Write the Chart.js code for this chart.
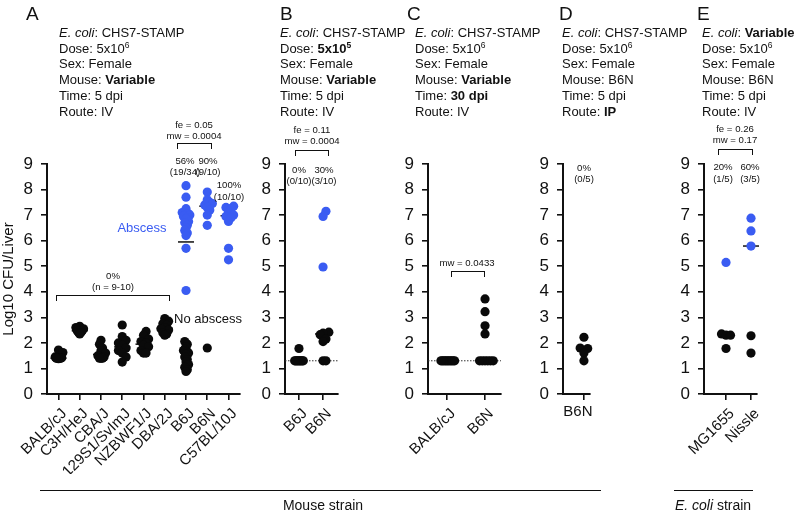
<!DOCTYPE html>
<html>
<head>
<meta charset="utf-8">
<script src="https://cdn.jsdelivr.net/npm/chart.js@4"></script>
<style>
  body { margin: 0; background: #fff; width: 794px; height: 512px; position: relative; overflow: hidden;
         font-family: Arial, "Liberation Sans", sans-serif; color: #111; }
  canvas { position: absolute; left: 0; top: 0; }
  .lbl { position: absolute; font-size: 19px; line-height: 1; }
  .hdr { position: absolute; font-size: 13px; line-height: 15.7px; white-space: nowrap; top: 25px; }
  .hdr sup { font-size: 8.5px; line-height: 0; vertical-align: 5px; }
  .note { position: absolute; transform: translate(-50%, -50%); white-space: nowrap; font-size: 9.6px; }
  .big { font-size: 13px; }
  .brk { position: absolute; border: 1.2px solid #111; border-bottom: none; height: 6px; box-sizing: border-box; }
  .rule { position: absolute; height: 0; border-top: 1.5px solid #111; }
</style>
</head>
<body>
<canvas id="cA" width="794" height="512"></canvas>
<canvas id="cB" width="794" height="512"></canvas>
<canvas id="cC" width="794" height="512"></canvas>
<canvas id="cD" width="794" height="512"></canvas>
<canvas id="cE" width="794" height="512"></canvas>

<div class="lbl" style="left:26px;top:4px">A</div>
<div class="hdr" style="left:59px"><i>E. coli</i>: CHS7-STAMP<br>Dose: 5x10<sup>6</sup><br>Sex: Female<br>Mouse: <b>Variable</b><br>Time: 5 dpi<br>Route: IV</div>
<div class="lbl" style="left:280px;top:4px">B</div>
<div class="hdr" style="left:280px"><i>E. coli</i>: CHS7-STAMP<br>Dose: <b>5x10<sup>5</sup></b><br>Sex: Female<br>Mouse: <b>Variable</b><br>Time: 5 dpi<br>Route: IV</div>
<div class="lbl" style="left:407px;top:4px">C</div>
<div class="hdr" style="left:415px"><i>E. coli</i>: CHS7-STAMP<br>Dose: 5x10<sup>6</sup><br>Sex: Female<br>Mouse: <b>Variable</b><br>Time: <b>30 dpi</b><br>Route: IV</div>
<div class="lbl" style="left:559px;top:4px">D</div>
<div class="hdr" style="left:562px"><i>E. coli</i>: CHS7-STAMP<br>Dose: 5x10<sup>6</sup><br>Sex: Female<br>Mouse: B6N<br>Time: 5 dpi<br>Route: <b>IP</b></div>
<div class="lbl" style="left:697px;top:4px">E</div>
<div class="hdr" style="left:702px"><i>E. coli</i>: <b>Variable</b><br>Dose: 5x10<sup>6</sup><br>Sex: Female<br>Mouse: B6N<br>Time: 5 dpi<br>Route: IV</div>

<div class="rule" style="left:40px;top:490px;width:561px"></div>
<div class="note big" style="left:323px;top:505px;font-size:14px">Mouse strain</div>
<div class="rule" style="left:674px;top:490px;width:79px"></div>
<div class="note big" style="left:713px;top:505px;font-size:14px"><i>E. coli</i> strain</div>

<script>
Chart.defaults.font.family = 'Arial, "Liberation Sans", sans-serif';
Chart.defaults.color = '#111';

// Panel A: mouse strains, 5x10^6, 5 dpi
const strainsA = ['BALB/cJ', 'C3H/HeJ', 'CBA/J', '129S1/SvImJ', 'NZBWF1/J', 'DBA/2J', 'B6J', 'B6N', 'C57BL/10J'];
const noAbscessA = [
  [1.72, 1.62, 1.45, 1.42, 1.4, 1.4, 1.4, 1.38, 1.4],
  [2.65, 2.6, 2.55, 2.5, 2.5, 2.45, 2.45, 2.4, 2.4, 2.35],
  [2.1, 1.95, 1.8, 1.7, 1.6, 1.5, 1.45, 1.4, 1.4, 1.4],
  [2.7, 2.25, 2.1, 2.0, 1.9, 1.8, 1.7, 1.6, 1.45, 1.25],
  [2.45, 2.3, 2.15, 2.05, 2.0, 1.9, 1.85, 1.7, 1.6, 1.6],
  [2.95, 2.85, 2.75, 2.7, 2.6, 2.55, 2.5, 2.4, 2.35, 2.3],
  [2.05, 1.95, 1.85, 1.75, 1.7, 1.65, 1.6, 1.55, 1.45, 1.35, 1.25, 1.15, 1.05, 0.95, 0.88],
  [1.8],
  []
];
const abscessA = [[], [], [], [], [], [],
  [8.15, 7.7, 7.25, 7.1, 7.05, 7.0, 7.0, 6.95, 6.9, 6.85, 6.75, 6.7, 6.6, 6.5, 6.4, 6.3, 6.2, 5.7, 4.05],
  [7.9, 7.6, 7.5, 7.45, 7.4, 7.3, 7.2, 7.0, 6.6],
  [7.35, 7.3, 7.25, 7.1, 7.0, 6.95, 6.9, 6.75, 5.7, 5.25]
];

// Panel B: dose 5x10^5
const strainsB = ['B6J', 'B6N'];
const noAbscessB = [[1.78, 1.3, 1.3, 1.3, 1.3, 1.3, 1.3, 1.3, 1.3, 1.3], [2.42, 2.38, 2.32, 2.15, 2.05, 1.3, 1.3]];
const abscessB = [[], [7.15, 6.95, 4.97]];

// Panel C: 30 dpi
const strainsC = ['BALB/cJ', 'B6N'];
const noAbscessC = [[1.3, 1.3, 1.3, 1.3, 1.3, 1.3, 1.3, 1.3, 1.3, 1.3], [3.72, 3.22, 2.67, 2.35, 1.3, 1.3, 1.3, 1.3, 1.3, 1.3]];
const abscessC = [[], []];

// Panel D: IP route
const strainsD = ['B6N'];
const noAbscessD = [[2.22, 1.8, 1.78, 1.6, 1.3]];
const abscessD = [[]];

// Panel E: E. coli strain
const strainsE = ['MG1655', 'Nissle'];
const noAbscessE = [[2.35, 2.3, 2.3, 1.78], [2.28, 1.6]];
const abscessE = [[5.15], [6.88, 6.38, 5.79]];

const yTicks = [0, 1, 2, 3, 4, 5, 6, 7, 8, 9];
const LOD = 1.3;

const BLUE = '#3a5cf2';
const INK = '#111';
const PX_Y = 230 / 9;

/* Spread points sideways like a scatter dot plot */
function swarm(vals, pxCat) {
  const step = 4.5, yGap = 7;
  const order = vals.map((v, i) => i).sort((a, b) => vals[a] - vals[b]);
  const placed = [];
  const off = [];
  order.forEach((i) => {
    const y = vals[i] * PX_Y;
    for (let k = 0; ; k++) {
      const dx = (k % 2 ? 1 : -1) * Math.ceil(k / 2) * step;
      if (!placed.some((p) => Math.abs(p.y - y) < yGap && Math.abs(p.x - dx) < step * 0.99)) {
        placed.push({ x: dx, y });
        off[i] = dx;
        break;
      }
    }
  });
  if (!off.length) return off;
  const span = Math.max(...off) - Math.min(...off);
  const lim = 0.36 * pxCat;
  const f = span > lim ? lim / span : 1;
  return off.map((d) => (d * f) / pxCat);
}

function median(a) {
  const s = [...a].sort((p, q) => p - q);
  const m = s.length >> 1;
  return s.length % 2 ? s[m] : (s[m - 1] + s[m]) / 2;
}

function makePanel(id, p) {
  const pxCat = (p.right - p.axis) / (p.max - p.min);
  const black = [], blue = [], groups = [];
  p.cats.forEach((c, i) => {
    const all = p.no[i].concat(p.ab[i]);
    groups.push(all);
    const off = swarm(all, pxCat);
    all.forEach((v, j) => (j < p.no[i].length ? black : blue).push({ x: i + off[j], y: v }));
  });

  const extras = {
    id: 'extras' + id,
    beforeDatasetsDraw(chart) {
      const { ctx, chartArea: a, scales: { x, y } } = chart;
      ctx.save();
      if (p.lod) {
        ctx.strokeStyle = '#333';
        ctx.lineWidth = 1;
        ctx.setLineDash([1.5, 1.5]);
        ctx.beginPath();
        ctx.moveTo(a.left, y.getPixelForValue(LOD));
        ctx.lineTo(a.right, y.getPixelForValue(LOD));
        ctx.stroke();
        ctx.setLineDash([]);
      }
      ctx.strokeStyle = INK;
      ctx.lineWidth = 1.5;
      groups.forEach((g, i) => {
        if (!g.length) return;
        const cx = x.getPixelForValue(i), cy = y.getPixelForValue(median(g));
        ctx.beginPath();
        ctx.moveTo(cx - 8, cy);
        ctx.lineTo(cx + 8, cy);
        ctx.stroke();
      });
      ctx.restore();
    }
  };

  const axisGrid = { drawOnChartArea: false, tickLength: 6, color: INK, lineWidth: 1.6 };
  const axisBorder = { color: INK, width: 2 };

  return new Chart(document.getElementById(id), {
    type: 'scatter',
    data: {
      datasets: [
        { data: black, backgroundColor: '#0a0a0a', borderWidth: 0, pointRadius: 4.6, clip: false },
        { data: blue, backgroundColor: BLUE, borderWidth: 0, pointRadius: 4.6, clip: false }
      ]
    },
    options: {
      responsive: false,
      animation: false,
      devicePixelRatio: 1,
      layout: { padding: { left: p.axis - p.yw, right: 794 - p.right, top: 164, bottom: 512 - 394 - 80 } },
      plugins: { legend: { display: false }, tooltip: { enabled: false } },
      scales: {
        x: {
          type: 'linear',
          min: p.min,
          max: p.max,
          afterBuildTicks: (s) => { s.ticks = p.cats.map((c, i) => ({ value: i })); },
          afterFit: (s) => { s.height = 80; s.paddingLeft = 0; s.paddingRight = 0; },
          ticks: { callback: (v) => p.cats[v], autoSkip: false, minRotation: p.rot, maxRotation: p.rot,
                   font: { size: 15 }, color: INK, padding: p.rot ? 5 : 3, labelOffset: p.shift },
          grid: axisGrid,
          border: axisBorder
        },
        y: {
          min: 0,
          max: 9,
          afterBuildTicks: (s) => { s.ticks = yTicks.map((v) => ({ value: v })); },
          afterFit: (s) => { s.width = p.yw; s.paddingTop = 0; s.paddingBottom = 0; },
          ticks: { font: { size: 17 }, color: INK, padding: 8 },
          grid: axisGrid,
          border: axisBorder,
          title: { display: !!p.title, text: p.title || '', font: { size: 15 }, color: INK, padding: 0 }
        }
      }
    },
    plugins: [extras]
  });
}

makePanel('cA', { cats: strainsA, no: noAbscessA, ab: abscessA, axis: 47, right: 240, min: -0.54, max: 8.54, yw: 47, rot: 45, shift: 6, title: 'Log10 CFU/Liver' });
makePanel('cB', { cats: strainsB, no: noAbscessB, ab: abscessB, axis: 285, right: 338, min: -0.58, max: 1.62, yw: 40, rot: 45, shift: 6, lod: true });
makePanel('cC', { cats: strainsC, no: noAbscessC, ab: abscessC, axis: 428, right: 501, min: -0.5, max: 1.42, yw: 40, rot: 45, shift: 6, lod: true });
makePanel('cD', { cats: strainsD, no: noAbscessD, ab: abscessD, axis: 563, right: 590, min: -1, max: 0.29, yw: 40, rot: 0, shift: -6 });
makePanel('cE', { cats: strainsE, no: noAbscessE, ab: abscessE, axis: 704, right: 757, min: -0.88, max: 1.24, yw: 40, rot: 45, shift: 6 });

/* Statistics notes and brackets */
const notes = [
  [194, 124, 'fe = 0.05'], [194, 135, 'mw = 0.0004'],
  [185, 160, '56%'], [185, 171, '(19/34)'], [208, 160, '90%'], [208, 171, '(9/10)'],
  [229, 184, '100%'], [229, 196, '(10/10)'],
  [113, 275, '0%'], [113, 286, '(n = 9-10)'],
  [312, 129, 'fe = 0.11'], [312, 140, 'mw = 0.0004'],
  [299, 169, '0%'], [299, 180, '(0/10)'], [324, 169, '30%'], [324, 180, '(3/10)'],
  [467, 262, 'mw = 0.0433'],
  [584, 167, '0%'], [584, 178, '(0/5)'],
  [735, 128, 'fe = 0.26'], [735, 139, 'mw = 0.17'],
  [723, 166, '20%'], [723, 178, '(1/5)'], [750, 166, '60%'], [750, 178, '(3/5)']
];
const brackets = [[177, 212, 143], [56, 170, 295], [295, 329, 150], [451, 485, 271], [718, 753, 149]];

notes.forEach(([x, y, t]) => {
  const d = document.createElement('div');
  d.className = 'note';
  d.style.left = x + 'px';
  d.style.top = y + 'px';
  d.textContent = t;
  document.body.appendChild(d);
});
brackets.forEach(([x1, x2, y]) => {
  const d = document.createElement('div');
  d.className = 'brk';
  d.style.left = x1 + 'px';
  d.style.top = y + 'px';
  d.style.width = (x2 - x1) + 'px';
  document.body.appendChild(d);
});
[[142, 227, 'Abscess', BLUE], [208, 318, 'No abscess', INK]].forEach(([x, y, t, c]) => {
  const d = document.createElement('div');
  d.className = 'note big';
  d.style.left = x + 'px';
  d.style.top = y + 'px';
  d.style.color = c;
  d.textContent = t;
  document.body.appendChild(d);
});
</script>
</body>
</html>
